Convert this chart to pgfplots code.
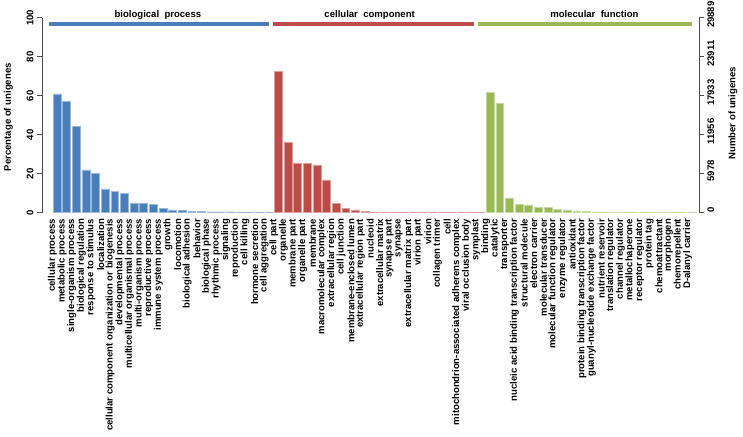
\documentclass[border=0pt]{standalone}
\usepackage{fontspec}
\setmainfont{Liberation Sans}
\usepackage{pgfplots}
\pgfplotsset{compat=1.18}
\definecolor{bpblue}{HTML}{4A7EBB}
\definecolor{ccred}{HTML}{BE4B48}
\definecolor{mfgreen}{HTML}{98B954}
\newcommand{\tf}{\fontsize{9.6}{11.5}\selectfont\bfseries}
\begin{document}
\begin{tikzpicture}
\pgfplotsset{
  common/.style={
    at={(42bp,224.3bp)}, anchor=south west,
    scale only axis, width=657bp, height=195bp,
    xmin=-1.56, xmax=66.7, clip=false,
    tick align=outside, major tick length=5bp,
    scaled y ticks=false,
    /pgf/number format/assume math mode=true,
  }
}
\begin{axis}[common, name=ax,
  ymin=0, ymax=100,
  axis y line*=left, axis x line*=bottom,
  x axis line style={draw=none},
  y axis line style={draw=black!70, line width=0.8bp},
  xtick={0,...,66},
  major x tick style={draw=none},
  major y tick style={draw=black!70, line width=0.8bp},
  xticklabel style={font=\tf, rotate=90, anchor=east, inner sep=1pt, yshift=4.5bp},
  xticklabels={cellular process, metabolic process, single-organism process, biological regulation, response to stimulus, localization, cellular component organization or biogenesis, developmental process, multicellular organismal process, multi-organism process, reproductive process, immune system process, growth, locomotion, biological adhesion, behavior, biological phase, rhythmic process, signaling, reproduction, cell killing, hormone secretion, cell aggregation,
  cell part, organelle, membrane part, organelle part, membrane, macromolecular complex, extracellular region, cell junction, membrane-enclosed lumen, extracellular region part, nucleoid, extracellular matrix, synapse part, synapse, extracellular matrix part, virion part, virion, collagen trimer, cell, mitochondrion-associated adherens complex, viral occlusion body, symplast,
  binding, catalytic, transporter, nucleic acid binding transcription factor, structural molecule, electron carrier, molecular transducer, molecular function regulator, enzyme regulator, antioxidant, protein binding transcription factor, guanyl-nucleotide exchange factor, nutrient reservoir, translation regulator, channel regulator, metallochaperone, receptor regulator, protein tag, chemoattractant, morphogen, chemorepellent, D-alanyl carrier},
  ytick={0,20,40,60,80,100},
  yticklabel style={font=\tf, rotate=90, anchor=south},
  every axis y label/.style={font=\tf, at={(rel axis cs:0,0.5)}, xshift=-33.5bp, yshift=-2bp, rotate=90, anchor=center},
  ylabel={Percentage of unigenes},
]
\addplot[ybar, bar width=0.82, bar shift=0pt, fill=bpblue, draw=bpblue!55!white, line width=0.5bp] coordinates {
(0,60.9) (1,57.1) (2,44.1) (3,21.9) (4,20.0) (5,12.2) (6,11.1) (7,9.8) (8,5.0) (9,5.0) (10,4.1) (11,2.2) (12,1.4) (13,1.3) (14,0.7) (15,0.5) (16,0.4) (17,0.4) (18,0.4) (19,0.3) (20,0.3) (21,0.2) (22,0.1)};
\addplot[ybar, bar width=0.82, bar shift=0pt, fill=ccred, draw=ccred!55!white, line width=0.5bp] coordinates {
(23,72.3) (24,35.9) (25,25.6) (26,25.3) (27,24.5) (28,16.8) (29,4.6) (30,2.4) (31,1.4) (32,0.8) (33,0.3) (34,0.3) (35,0.3) (36,0.3) (37,0.3) (38,0.3) (39,0.3) (40,0.3) (41,0.3) (42,0.3) (43,0.3) (44,0.3)};
\addplot[ybar, bar width=0.82, bar shift=0pt, fill=mfgreen, draw=mfgreen!55!white, line width=0.5bp] coordinates {
(45,61.7) (46,55.9) (47,7.6) (48,4.4) (49,4.0) (50,2.8) (51,2.6) (52,1.7) (53,1.4) (54,0.9) (55,0.7) (56,0.4) (57,0.3) (58,0.3) (59,0.3) (60,0.3) (61,0.3) (62,0.3) (63,0.3) (64,0.3) (65,0.3) (66,0.3)};
\addplot[bpblue, line width=4bp, line cap=butt] coordinates {(-0.83,96.8) (22.0,96.8)};
\addplot[ccred, line width=4bp, line cap=butt] coordinates {(22.4,96.8) (43.3,96.8)};
\addplot[mfgreen, line width=4bp, line cap=butt] coordinates {(43.7,96.8) (66.0,96.8)};
\node[font=\tf] at (axis cs:10.48,101.6) {biological~ process};
\node[font=\tf] at (axis cs:32.48,101.6) {cellular~ component};
\node[font=\tf] at (axis cs:55.83,101.6) {molecular~ function};
\end{axis}
\begin{axis}[common,
  ymin=0, ymax=29889,
  axis y line*=right, axis x line=none,
  y axis line style={draw=black!70, line width=0.8bp},
  major y tick style={draw=black!70, line width=0.8bp},
  ytick={0,5978,11956,17933,23911,29889},
  yticklabels={0,5978,11956,17933,23911,29889},
  yticklabel style={font=\tf, rotate=90, anchor=north, xshift=3bp},
  every axis y label/.style={font=\tf, at={(rel axis cs:1,0.5)}, xshift=34bp, yshift=2bp, rotate=90, anchor=center},
  ylabel={Number of unigenes},
]
\end{axis}
\pgfresetboundingbox
\path[use as bounding box] (0bp,0bp) rectangle (743bp,437bp);
\end{tikzpicture}
\end{document}
